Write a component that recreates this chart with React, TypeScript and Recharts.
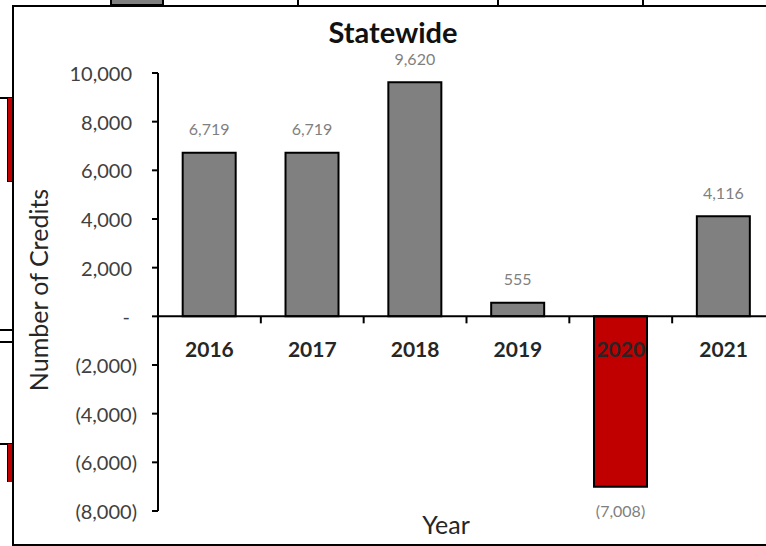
import { BarChart, Bar, XAxis, YAxis, Cell, LabelList, ReferenceLine } from 'recharts';

const years = ['2016', '2017', '2018', '2019', '2020', '2021'];
const credits = [6719, 6719, 9620, 555, -7008, 4116];
const yTicks = [-8000, -6000, -4000, -2000, 0, 2000, 4000, 6000, 8000, 10000];

const Y_MIN = -8000;
const Y_MAX = 10000;
const CHART_W = 800;
const CHART_H = 546;
const MARGIN = { top: 73, right: 25, bottom: 0, left: 0 };
const Y_AXIS_W = 158;
const X_AXIS_H = 35;
const FONT = 'Lato, "Open Sans", sans-serif';

// the category axis crosses at zero, so work out where zero lands in the plot
const plotTop = MARGIN.top;
const plotBottom = CHART_H - MARGIN.bottom - X_AXIS_H;
const zeroY = plotTop + ((plotBottom - plotTop) * Y_MAX) / (Y_MAX - Y_MIN);
const bandW = (CHART_W - MARGIN.left - MARGIN.right - Y_AXIS_W) / years.length;

const data = years.map((year, i) => ({ year, credits: credits[i] }));

const fmt = (n: number) =>
  n === 0 ? '-' : n < 0 ? `(${Math.abs(n).toLocaleString('en-US')})` : n.toLocaleString('en-US');

const XTick = ({ x, payload, index }: any) => (
  <g>
    {index > 0 && (
      <line x1={x - bandW / 2} x2={x - bandW / 2} y1={zeroY} y2={zeroY + 7} stroke="#000" strokeWidth={2} />
    )}
    <text
      x={x}
      y={zeroY + 32}
      textAnchor="middle"
      dominantBaseline="central"
      fontFamily={FONT}
      fontWeight={700}
      fontSize={21}
      fill="#262626"
    >
      {payload.value}
    </text>
  </g>
);

const YTick = ({ x, y, payload }: any) => {
  const v = payload.value;
  // accounting format: positives leave room for the closing bracket
  const dx = v > 0 ? -5 : v === 0 ? -7 : 0;
  return (
    <text x={x + dx} y={y} textAnchor="end" dominantBaseline="central" fontFamily={FONT} fontSize={20} fill="#404040">
      {fmt(v)}
    </text>
  );
};

const BarValue = ({ x, y, width, height, value }: any) => {
  const top = Math.min(y, y + height);
  const bottom = Math.max(y, y + height);
  const cy = value < 0 ? bottom + 24 : top - 24;
  return (
    <text x={x + width / 2} y={cy} textAnchor="middle" dominantBaseline="central" fontFamily={FONT} fontSize={16} fill="#7f7f7f">
      {fmt(value)}
    </text>
  );
};

const box = (s: React.CSSProperties): React.CSSProperties => ({ position: 'absolute', boxSizing: 'border-box', ...s });

export default function App() {
  return (
    <div style={{ position: 'absolute', left: 0, top: 0, width: 766, height: 546, overflow: 'hidden', background: '#fff' }}>
      {/* bits of the surrounding page that show round the chart */}
      <div style={box({ left: 110, top: -2, width: 54, height: 8, background: '#808080', border: '2px solid #000' })} />
      <div style={box({ left: 297, top: 0, width: 2, height: 6, background: '#000' })} />
      <div style={box({ left: 497, top: 0, width: 2, height: 6, background: '#000' })} />
      <div style={box({ left: 642, top: 0, width: 2, height: 6, background: '#000' })} />
      <div style={box({ left: 0, top: 97, width: 12, height: 2, background: '#000' })} />
      <div style={box({ left: 7, top: 98, width: 5, height: 84, background: '#c00000', borderLeft: '1px solid #000', borderBottom: '1px solid #000' })} />
      <div style={box({ left: 0, top: 329, width: 12, height: 2, background: '#000' })} />
      <div style={box({ left: 0, top: 341, width: 12, height: 2, background: '#000' })} />
      <div style={box({ left: 0, top: 443, width: 12, height: 2, background: '#000' })} />
      <div style={box({ left: 7, top: 444, width: 5, height: 38, background: '#c00000', borderLeft: '1px solid #000' })} />

      <div style={box({ left: 12, top: 5, width: 800, height: 541, border: '2px solid #000', background: '#fff' })} />

      <div style={box({ left: 0, top: 0 })}>
        <BarChart width={CHART_W} height={CHART_H} data={data} margin={MARGIN} barCategoryGap="24%">
          <YAxis
            domain={[Y_MIN, Y_MAX]}
            ticks={yTicks}
            width={Y_AXIS_W}
            interval={0}
            allowDataOverflow
            axisLine={{ stroke: '#000', strokeWidth: 2 }}
            tickLine={{ stroke: '#000', strokeWidth: 2 }}
            tickSize={6}
            tickMargin={15}
            tick={<YTick />}
            label={{
              content: () => (
                <text
                  x={38}
                  y={290}
                  transform="rotate(-90 38 290)"
                  textAnchor="middle"
                  dominantBaseline="central"
                  fontFamily={FONT}
                  fontSize={25}
                  fill="#262626"
                >
                  Number of Credits
                </text>
              ),
            }}
          />
          <Bar dataKey="credits" stroke="#000" strokeWidth={2} isAnimationActive={false}>
            {data.map((d, i) => (
              <Cell key={`cell-${i}`} fill={d.credits < 0 ? '#c00000' : '#808080'} />
            ))}
            <LabelList dataKey="credits" content={<BarValue />} />
          </Bar>
          <ReferenceLine y={0} stroke="#000" strokeWidth={2} />
          <XAxis dataKey="year" height={X_AXIS_H} axisLine={false} tickLine={false} interval={0} tick={<XTick />} />
        </BarChart>
      </div>

      <div
        style={box({
          left: 393,
          top: 31,
          transform: 'translate(-50%, -50%)',
          fontFamily: FONT,
          fontWeight: 700,
          fontSize: 29,
          color: '#111',
          whiteSpace: 'nowrap',
        })}
      >
        Statewide
      </div>
      <div
        style={box({
          left: 446,
          top: 524,
          transform: 'translate(-50%, -50%)',
          fontFamily: FONT,
          fontSize: 25,
          color: '#262626',
          whiteSpace: 'nowrap',
        })}
      >
        Year
      </div>
    </div>
  );
}
